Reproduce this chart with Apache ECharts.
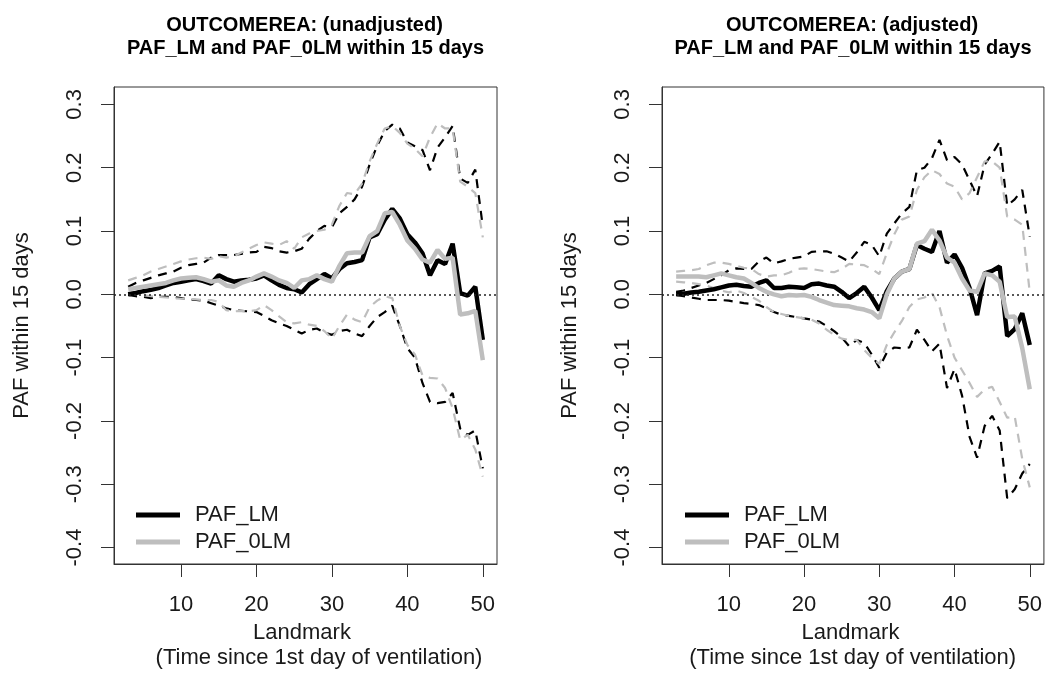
<!DOCTYPE html>
<html>
<head>
<meta charset="utf-8">
<script src="https://cdn.jsdelivr.net/npm/echarts@6/dist/echarts.min.js"></script>
<style>
html,body{margin:0;padding:0;background:#fff;}
#chart{width:1045px;height:675px;}
</style>
</head>
<body>
<div id="chart"></div>
<script>
// Landmark days
const landmarks = [3,4,5,6,7,8,9,10,11,12,13,14,15,16,17,18,19,20,21,22,23,24,25,26,27,28,29,30,31,32,33,34,35,36,37,38,39,40,41,42,43,44,45,46,47,48,49,50];

// ----- Left panel (unadjusted) -----
const unadjLM = [0.000,0.002,0.005,0.007,0.010,0.014,0.018,0.020,0.022,0.024,0.021,0.017,0.030,0.024,0.020,0.022,0.023,0.025,0.030,0.022,0.015,0.010,0.008,0.003,0.016,0.024,0.032,0.025,0.040,0.049,0.051,0.054,0.090,0.095,0.118,0.135,0.120,0.095,0.082,0.065,0.030,0.054,0.048,0.080,0.002,-0.002,0.012,-0.072];
const unadj0LM = [0.008,0.010,0.012,0.014,0.016,0.018,0.022,0.025,0.026,0.027,0.024,0.020,0.022,0.014,0.012,0.018,0.022,0.028,0.033,0.028,0.022,0.018,0.010,0.022,0.024,0.030,0.024,0.020,0.045,0.065,0.066,0.066,0.092,0.100,0.128,0.130,0.110,0.085,0.072,0.055,0.050,0.070,0.056,0.058,-0.032,-0.030,-0.026,-0.104];
const unadjLMUp = [0.012,0.018,0.022,0.026,0.030,0.033,0.036,0.042,0.046,0.048,0.050,0.058,0.062,0.062,0.062,0.064,0.066,0.067,0.075,0.073,0.068,0.066,0.068,0.072,0.088,0.100,0.108,0.106,0.128,0.138,0.150,0.170,0.205,0.235,0.258,0.268,0.262,0.240,0.234,0.228,0.196,0.232,0.248,0.266,0.183,0.176,0.197,0.107];
const unadjLMLo = [-0.001,-0.003,-0.004,-0.006,-0.004,-0.004,-0.004,-0.006,-0.008,-0.009,-0.010,-0.014,-0.018,-0.022,-0.025,-0.026,-0.027,-0.028,-0.034,-0.041,-0.046,-0.050,-0.056,-0.062,-0.056,-0.054,-0.060,-0.064,-0.058,-0.056,-0.062,-0.066,-0.050,-0.036,-0.028,-0.018,-0.050,-0.085,-0.100,-0.140,-0.170,-0.172,-0.170,-0.156,-0.212,-0.222,-0.215,-0.275];
const unadj0LMUp = [0.022,0.026,0.030,0.036,0.040,0.044,0.048,0.052,0.055,0.057,0.058,0.056,0.060,0.058,0.060,0.066,0.072,0.078,0.082,0.080,0.078,0.084,0.072,0.090,0.096,0.100,0.102,0.110,0.140,0.160,0.158,0.175,0.210,0.238,0.262,0.266,0.255,0.238,0.230,0.218,0.248,0.270,0.262,0.262,0.178,0.170,0.160,0.090];
const unadj0LMLo = [0.002,0.001,-0.001,-0.003,-0.004,-0.005,-0.006,-0.007,-0.007,-0.008,-0.009,-0.009,-0.012,-0.025,-0.027,-0.026,-0.027,-0.025,-0.017,-0.025,-0.035,-0.044,-0.046,-0.044,-0.048,-0.050,-0.058,-0.070,-0.050,-0.032,-0.040,-0.044,-0.020,-0.010,-0.003,-0.006,-0.050,-0.080,-0.095,-0.128,-0.132,-0.133,-0.148,-0.180,-0.230,-0.222,-0.245,-0.288];

// ----- Right panel (adjusted) -----
const adjLM = [0.000,0.001,0.003,0.004,0.006,0.008,0.011,0.014,0.015,0.013,0.012,0.018,0.022,0.010,0.010,0.012,0.011,0.010,0.016,0.017,0.014,0.012,0.004,-0.006,0.002,0.012,-0.005,-0.025,0.005,0.025,0.036,0.040,0.078,0.072,0.067,0.100,0.050,0.063,0.042,0.010,-0.033,0.033,0.037,0.044,-0.066,-0.055,-0.030,-0.080];
const adj0LM = [0.028,0.028,0.028,0.028,0.027,0.030,0.033,0.030,0.027,0.025,0.018,0.010,0.004,0.000,-0.003,-0.001,-0.002,-0.001,-0.004,-0.009,-0.013,-0.017,-0.018,-0.019,-0.022,-0.024,-0.028,-0.038,0.000,0.025,0.036,0.040,0.080,0.084,0.102,0.085,0.058,0.050,0.025,0.006,0.004,0.033,0.030,0.020,-0.036,-0.035,-0.085,-0.150];
const adjLMUp = [0.004,0.006,0.010,0.014,0.018,0.024,0.030,0.038,0.041,0.040,0.040,0.052,0.058,0.049,0.052,0.056,0.058,0.060,0.067,0.068,0.068,0.064,0.058,0.052,0.066,0.083,0.078,0.060,0.096,0.112,0.128,0.138,0.196,0.200,0.215,0.244,0.212,0.217,0.205,0.180,0.155,0.205,0.222,0.241,0.140,0.150,0.165,0.091];
const adjLMLo = [-0.001,-0.003,-0.005,-0.007,-0.009,-0.009,-0.009,-0.010,-0.012,-0.014,-0.015,-0.017,-0.022,-0.028,-0.032,-0.034,-0.036,-0.038,-0.040,-0.043,-0.050,-0.058,-0.068,-0.082,-0.072,-0.077,-0.095,-0.116,-0.092,-0.084,-0.085,-0.084,-0.056,-0.072,-0.090,-0.078,-0.148,-0.118,-0.160,-0.225,-0.258,-0.208,-0.192,-0.215,-0.322,-0.308,-0.283,-0.268];
const adj0LMUp = [0.036,0.037,0.038,0.040,0.046,0.050,0.050,0.048,0.045,0.042,0.040,0.032,0.028,0.030,0.030,0.034,0.040,0.041,0.040,0.038,0.036,0.035,0.040,0.048,0.047,0.046,0.040,0.032,0.065,0.095,0.118,0.123,0.165,0.185,0.196,0.190,0.175,0.170,0.150,0.160,0.185,0.210,0.210,0.200,0.123,0.118,0.110,0.003];
const adj0LMLo = [0.020,0.019,0.018,0.016,0.014,0.010,0.006,0.003,0.006,0.002,-0.004,-0.010,-0.020,-0.028,-0.031,-0.034,-0.036,-0.038,-0.040,-0.046,-0.056,-0.064,-0.070,-0.072,-0.072,-0.088,-0.100,-0.110,-0.080,-0.060,-0.042,-0.020,-0.008,-0.005,0.002,-0.020,-0.065,-0.100,-0.120,-0.140,-0.162,-0.150,-0.146,-0.170,-0.195,-0.193,-0.260,-0.305];

// Axis ticks and text
const xTicks = [10,20,30,40,50];
const yTicks = [-0.4,-0.3,-0.2,-0.1,0.0,0.1,0.2,0.3];
const panelTitles = [
  ['OUTCOMEREA: (unadjusted)','PAF_LM and PAF_0LM within 15 days'],
  ['OUTCOMEREA: (adjusted)','PAF_LM and PAF_0LM within 15 days']
];
const xLabel = ['Landmark','(Time since 1st day of ventilation)'];
const yLabel = 'PAF within 15 days';
const seriesNames = ['PAF_LM','PAF_0LM'];

const BLACK = '#000000';
const GRAY = '#bebebe';
const FONT = '"Liberation Sans", Arial, sans-serif';

const chart = echarts.init(document.getElementById('chart'), null, {renderer:'canvas'});

const grids = [
  {left:114, top:87, width:383, height:477},
  {left:662, top:87, width:382, height:477}
];

function pairs(arr){ return landmarks.map((l,i)=>[l, arr[i]]); }

function xAxisCfg(gi){
  return {
    gridIndex: gi, type:'value', min:1.12, max:51.88,
    axisLine:{show:true, onZero:false, lineStyle:{color:'#333', width:1}},
    splitLine:{show:false},
    axisTick:{show:true, inside:false, length:13, customValues:xTicks, lineStyle:{color:'#333', width:1}},
    axisLabel:{customValues:xTicks, fontSize:22, fontFamily:FONT, color:'#1a1a1a', margin:30}
  };
}
function yAxisCfg(gi){
  return {
    gridIndex: gi, type:'value', min:-0.426, max:0.3275,
    axisLine:{show:true, onZero:false, lineStyle:{color:'#333', width:1}},
    splitLine:{show:false},
    axisTick:{show:true, inside:false, length:13, customValues:yTicks, lineStyle:{color:'#333', width:1}},
    axisLabel:{customValues:yTicks, rotate:90, fontSize:22, fontFamily:FONT, color:'#1a1a1a', margin:28,
      formatter:(v)=>Number(v).toFixed(1)}
  };
}

function panelSeries(gi, lm, olm, lmUp, lmLo, olmUp, olmLo){
  const base = {type:'line', xAxisIndex:gi, yAxisIndex:gi, showSymbol:false, symbol:'none', silent:true, animation:false};
  const dashBlack = {color:BLACK, width:2.2, type:[9,7]};
  const dashGray = {color:GRAY, width:2.2, type:[9,7]};
  return [
    Object.assign({}, base, {name:'lmUp'+gi, data:pairs(lmUp), color:BLACK, lineStyle:dashBlack, z:2}),
    Object.assign({}, base, {name:'lmLo'+gi, data:pairs(lmLo), color:BLACK, lineStyle:dashBlack, z:2}),
    Object.assign({}, base, {name:'olmUp'+gi, data:pairs(olmUp), color:GRAY, lineStyle:dashGray, z:3}),
    Object.assign({}, base, {name:'olmLo'+gi, data:pairs(olmLo), color:GRAY, lineStyle:dashGray, z:3}),
    Object.assign({}, base, {name:seriesNames[0], data:pairs(lm), color:BLACK, lineStyle:{color:BLACK, width:4.5}, z:4,
      markLine:{silent:true, symbol:'none', animation:false, label:{show:false},
        lineStyle:{color:'#222', width:1.5, type:[2,3]}, data:[{yAxis:0}]}}),
    Object.assign({}, base, {name:seriesNames[1], data:pairs(olm), color:GRAY, lineStyle:{color:GRAY, width:4.5}, z:5})
  ];
}

function legendCfg(left){
  return {
    left:left, top:499, orient:'vertical', selectedMode:false,
    data:seriesNames, icon:'rect', itemWidth:44, itemHeight:5, itemGap:5,
    textStyle:{fontSize:22, fontFamily:FONT, color:'#1a1a1a', lineHeight:22, padding:[0,0,0,10]}
  };
}

const centersX = [305.5, 853];
const graphics = [];
panelTitles.forEach((t, i) => {
  graphics.push({type:'text', x:centersX[i]-1, y:25, style:{text:t[0], font:'bold 20px '+FONT, fill:'#000', textAlign:'center', textVerticalAlign:'middle'}});
  graphics.push({type:'text', x:centersX[i], y:48, style:{text:t[1], font:'bold 20px '+FONT, fill:'#000', textAlign:'center', textVerticalAlign:'middle'}});
});
const xl1 = [302, 850.5];
const xl2 = [319, 852.7];
[0,1].forEach(i => {
  graphics.push({type:'text', x:xl1[i], y:633, style:{text:xLabel[0], font:'22px '+FONT, fill:'#1a1a1a', textAlign:'center', textVerticalAlign:'middle'}});
  graphics.push({type:'text', x:xl2[i], y:658, style:{text:xLabel[1], font:'22px '+FONT, fill:'#1a1a1a', textAlign:'center', textVerticalAlign:'middle'}});
});
const ylX = [22, 570];
[0,1].forEach(i => {
  graphics.push({type:'text', x:ylX[i], y:325.5, rotation:Math.PI/2,
    style:{text:yLabel, font:'22px '+FONT, fill:'#1a1a1a', textAlign:'center', textVerticalAlign:'middle'}});
});

const option = {
  animation:false,
  backgroundColor:'#ffffff',
  grid: grids.map(g => Object.assign({show:true, borderColor:'#333', borderWidth:1, backgroundColor:'transparent', containLabel:false}, g)),
  xAxis:[xAxisCfg(0), xAxisCfg(1)],
  yAxis:[yAxisCfg(0), yAxisCfg(1)],
  legend:[legendCfg(131), legendCfg(680)],
  series:[].concat(
    panelSeries(0, unadjLM, unadj0LM, unadjLMUp, unadjLMLo, unadj0LMUp, unadj0LMLo),
    panelSeries(1, adjLM, adj0LM, adjLMUp, adjLMLo, adj0LMUp, adj0LMLo)
  ),
  graphic: graphics
};
chart.setOption(option);
</script>
</body>
</html>
